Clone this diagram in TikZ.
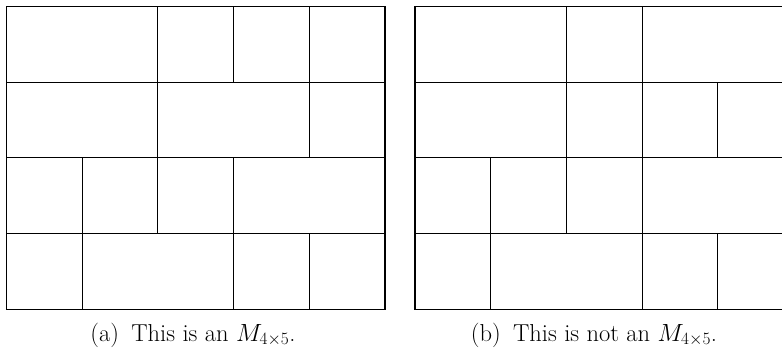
\documentclass[tikz,border=0pt]{standalone}
\begin{document}
\begin{tikzpicture}[x=1pt,y=-1pt,
  cell/.style={draw=black,line width=1.1pt},
  capt/.style={font=\fontsize{24.5}{29}\selectfont,inner sep=0pt,anchor=base}]
\useasboundingbox (0,0) rectangle (782,349);
\clip (0,0) rectangle (782,349);
\def\cs{75.7}
% left grid
\foreach \c/\r/\w in {0/0/2,2/0/1,3/0/1,4/0/1,
                      0/1/2,2/1/2,4/1/1,
                      0/2/1,1/2/1,2/2/1,3/2/2,
                      0/3/1,1/3/2,3/3/1,4/3/1}
  \draw[cell] ({6.5+\c*\cs},{6.5+\r*\cs}) rectangle ({6.5+(\c+\w)*\cs},{6.5+(\r+1)*\cs});
% right grid
\foreach \c/\r/\w in {0/0/2,2/0/1,3/0/2,
                      0/1/2,2/1/1,3/1/1,4/1/1,
                      0/2/1,1/2/1,2/2/1,3/2/2,
                      0/3/1,1/3/2,3/3/1,4/3/1}
  \draw[cell] ({415+\c*\cs},{6.5+\r*\cs}) rectangle ({415+(\c+\w)*\cs},{6.5+(\r+1)*\cs});
\node[capt] (capa) at (193,341) {(a)\enspace This is an $M_{4\times5}$.};
\node[capt] (capb) at (594,341) {(b)\enspace This is not an $M_{4\times5}$.};
\end{tikzpicture}
\end{document}
